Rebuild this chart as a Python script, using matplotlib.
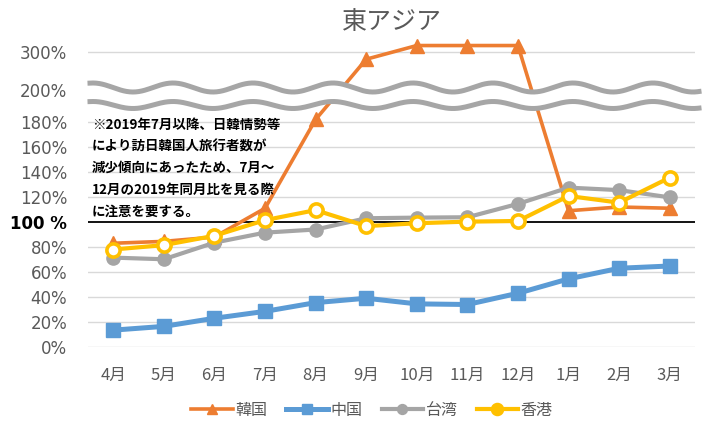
import numpy as np
import matplotlib
matplotlib.use("Agg")
import matplotlib.pyplot as plt
from matplotlib.lines import Line2D
from matplotlib.patches import Polygon

plt.rcParams['font.family'] = ['Noto Sans CJK JP', 'DejaVu Sans']

months = ['4月', '5月', '6月', '7月', '8月', '9月', '10月', '11月', '12月', '1月', '2月', '3月']
korea = [83, 84.5, 88, 111, 182, 281, 317, 317, 317, 109, 112, 111]
china = [13.5, 16.5, 23, 28.5, 35.5, 39, 34.5, 34, 43, 54.5, 63, 64.8]
taiwan = [71.5, 70.2, 83.5, 91.5, 94, 103, 103.5, 103.8, 114.5, 127.5, 125.5, 119.7]
hongkong = [78, 81.5, 89, 101.5, 109.5, 96.7, 99, 100.3, 100.8, 120.8, 115.5, 135.5]
tick_vals = [0, 20, 40, 60, 80, 100, 120, 140, 160, 180, 200, 300]
note = ['※2019年7月以降、日韓情勢等',
        'により訪日韓国人旅行者数が',
        '減少傾向にあったため、7月～',
        '12月の2019年同月比を見る際',
        'に注意を要する。']

# broken axis: linear up to 190%, compressed above 200%
y_pts = np.array([-1000.0, 190.0, 200.0, 1000.0])
u_pts = np.array([-1000.0, 190.0, 205.6, 205.6 + 800 * 0.304])

def fwd(y):
    return np.interp(y, y_pts, u_pts)

def inv(u):
    return np.interp(u, u_pts, y_pts)

W, H = 719, 440
fig = plt.figure(figsize=(W / 100, H / 100), dpi=100)
ax = fig.add_axes([88 / W, (H - 347) / H, (695 - 88) / W, 317 / H])
ax.set_yscale('function', functions=(fwd, inv))

x = np.arange(len(months))
ax.plot(x, korea, color='#ED7D31', lw=2.6, marker='^', ms=10, label='韓国', zorder=3)
ax.plot(x, china, color='#5B9BD5', lw=3.6, marker='s', ms=10, label='中国', zorder=4)
ax.plot(x, taiwan, color='#A5A5A5', lw=3.0, marker='o', ms=9.5, label='台湾', zorder=5)
ax.plot(x, hongkong, color='#FFC000', lw=3.0, marker='o', ms=9.5, mfc='white',
        mew=2.6, label='香港', zorder=6)

ax.set_xlim(-0.5, len(months) - 0.5)
ax.set_ylim(0, inv(253.6))

for v in tick_vals:
    if v == 100:
        ax.axhline(v, color='black', lw=1.3, zorder=1)
    elif v != 200:
        ax.axhline(v, color='#D9D9D9', lw=1.0, zorder=0.5)

ax.set_yticks(tick_vals)
ax.set_yticklabels(['100 %' if v == 100 else f'{v}%' for v in tick_vals],
                   family=['DejaVu Sans'])
ax.set_xticks(x)
ax.set_xticklabels(months)
ax.tick_params(axis='y', length=0, pad=15, labelsize=12, labelcolor='#595959')
ax.tick_params(axis='x', length=0, pad=14, labelsize=12, labelcolor='#595959')
for lab, v in zip(ax.get_yticklabels(), tick_vals):
    if v == 100:
        lab.set_fontweight('bold')
        lab.set_color('black')
for s in ax.spines.values():
    s.set_visible(False)

# wavy break marks (figure pixel coordinates)
wx = np.linspace(90, 699, 400)
up = 87.5 - 4.5 * np.cos(2 * np.pi * (wx - 173) / 80)
lo = 105.0 - 3.5 * np.cos(2 * np.pi * (wx - 173) / 80)
poly = np.column_stack([np.r_[wx, wx[::-1]] / W, 1 - np.r_[up, lo[::-1]] / H])
fig.add_artist(Polygon(poly, closed=True, facecolor='white', edgecolor='none',
                       transform=fig.transFigure, zorder=5))
for yy in (up, lo):
    fig.add_artist(Line2D(wx / W, 1 - yy / H, color='#A6A6A6', lw=3.6,
                          transform=fig.transFigure, zorder=6))

fig.text(392 / W, 1 - 22 / H, '東アジア', ha='center', va='center',
         fontsize=18, color='#595959')

for i, line in enumerate(note):
    fig.text(92 / W, 1 - (125 + i * 21.6) / H, line, ha='left', va='center',
             fontsize=9.7, fontweight='bold', color='black')

leg = fig.legend(loc='center', bbox_to_anchor=(372 / W, 1 - 410 / H), ncol=4,
                 frameon=False, fontsize=11.5, labelcolor='#595959', markerscale=0.75,
                 handlelength=2.6, handletextpad=0.15, columnspacing=1.2)
leg.legend_handles[3].set_markerfacecolor('#FFC000')

fig.savefig('out.png', dpi=100)
